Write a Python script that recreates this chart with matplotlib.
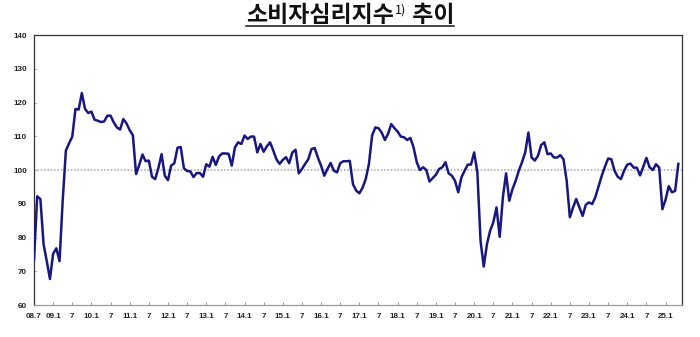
import matplotlib
matplotlib.use("Agg")
import matplotlib.pyplot as plt
from matplotlib.lines import Line2D

# 소비자심리지수 (월별, 2008.7 ~ 2025.5)
ccsi = [
    73.4, 92.2, 91.4, 78.0, 73.0, 67.7, 75.2, 76.8, 73.0, 91.0,
    105.8, 107.9, 109.9, 118.1, 117.9, 122.8, 118.1, 116.9, 117.3, 114.9,
    114.6, 114.2, 114.4, 116.1, 116.1, 114.1, 112.6, 112.0, 115.1, 113.8,
    111.8, 110.3, 98.8, 101.5, 104.6, 102.6, 102.8, 98.0, 97.3, 100.6,
    104.7, 98.3, 97.0, 101.3, 102.0, 106.6, 106.8, 100.5, 99.7, 99.6,
    97.9, 99.1, 99.1, 98.0, 101.7, 101.0, 103.9, 101.5, 104.0, 104.9,
    104.9, 104.8, 101.3, 106.7, 108.2, 107.7, 110.2, 109.2, 109.9, 109.9,
    105.2, 107.7, 105.4, 107.0, 108.2, 105.8, 103.2, 101.8, 103.0, 103.8,
    102.0, 105.2, 106.0, 99.0, 100.3, 101.8, 103.2, 106.2, 106.5, 103.7,
    101.3, 98.3, 100.3, 102.1, 99.8, 99.3, 102.0, 102.6, 102.6, 102.7,
    95.8, 93.9, 93.1, 94.7, 97.3, 101.8, 110.2, 112.6, 112.4, 111.1,
    108.9, 110.7, 113.6, 112.4, 111.4, 109.9, 109.7, 108.9, 109.5, 106.7,
    102.3, 100.0, 100.8, 100.0, 96.6, 97.6, 98.6, 100.3, 100.8, 102.3,
    99.0, 98.3, 96.8, 93.4, 97.8, 99.8, 101.6, 101.6, 105.2, 99.3,
    79.0, 71.4, 78.0, 82.0, 84.5, 88.9, 80.2, 91.9, 99.0, 90.9,
    94.3, 96.8, 99.8, 102.3, 105.2, 111.1, 103.7, 102.8, 104.2, 107.4,
    108.2, 104.7, 104.9, 103.7, 103.7, 104.4, 103.2, 96.8, 86.0, 88.9,
    91.4, 88.9, 86.4, 89.7, 90.4, 89.9, 92.0, 95.1, 98.3, 101.0,
    103.4, 103.2, 99.8, 98.0, 97.3, 99.8, 101.6, 101.9, 100.7, 100.7,
    98.4, 100.9, 103.6, 100.8, 100.0, 101.7, 100.7, 88.4, 91.2, 95.2,
    93.4, 93.8, 101.8,
]

# x축 눈금 (6개월 간격)
tick_labels = [
    "08.7", "09.1", "7", "10.1", "7", "11.1", "7", "12.1", "7", "13.1",
    "7", "14.1", "7", "15.1", "7", "16.1", "7", "17.1", "7", "18.1",
    "7", "19.1", "7", "20.1", "7", "21.1", "7", "22.1", "7", "23.1",
    "7", "24.1", "7", "25.1",
]
y_ticks = [60, 70, 80, 90, 100, 110, 120, 130, 140]
base_line = 100

W, H = 700, 337
fig = plt.figure(figsize=(W / 100, H / 100), dpi=100)
ax = fig.add_axes([34 / W, 1 - 305 / H, (681.5 - 34) / W, (305 - 35) / H])

months = list(range(len(ccsi)))
ax.axhline(base_line, color="#b0b0b0", lw=1.2, ls=(0, (1, 1)), zorder=1)
ax.plot(months, ccsi, color="#17177f", lw=1.8, solid_joinstyle="round", zorder=3)

ax.set_xlim(0, len(ccsi))
ax.set_ylim(60, 140)
ax.set_yticks(y_ticks)
ax.set_xticks(range(0, 6 * len(tick_labels), 6))
ax.set_xticklabels(tick_labels)

for lab in ax.get_xticklabels() + ax.get_yticklabels():
    lab.set_fontfamily("Liberation Sans")
    lab.set_fontsize(5.8)
    lab.set_fontweight("bold")
    lab.set_color("#222222")

ax.tick_params(axis="x", direction="in", length=2.5, width=0.6, color="#888888", pad=6)
ax.tick_params(axis="y", direction="in", length=2, width=0.6, color="#aaaaaa", pad=5)
for side in ["left", "top", "right"]:
    ax.spines[side].set_color("#333333")
    ax.spines[side].set_linewidth(0.9)
ax.spines["bottom"].set_color("#999999")
ax.spines["bottom"].set_linewidth(0.9)

# 제목 (윗첨자 + 밑줄)
title_kw = dict(family=["Noto Sans CJK KR", "DejaVu Sans"], color="#111111", va="baseline")
t1 = fig.text(0, 0, "소비자심리지수", size=16.5, weight="bold", **title_kw)
t2 = fig.text(0, 0, "1)", size=9, **title_kw)
t3 = fig.text(0, 0, " 추이", size=16.5, weight="bold", **title_kw)
fig.canvas.draw()
r = fig.canvas.get_renderer()
w1 = t1.get_window_extent(r).width
w2 = t2.get_window_extent(r).width + 1.5
w3 = t3.get_window_extent(r).width
x0 = W / 2 - (w1 + w2 + w3) / 2
base_y = H - 21.5
t1.set_position((x0 / W, base_y / H))
t2.set_position(((x0 + w1 + 1) / W, (base_y + 7.5) / H))
t3.set_position(((x0 + w1 + w2) / W, base_y / H))
fig.add_artist(Line2D([x0 / W, (x0 + w1 + w2 + w3) / W], [(H - 25.5) / H] * 2,
                      color="#111111", lw=1.1, transform=fig.transFigure))

fig.savefig("out.png", dpi=100)
